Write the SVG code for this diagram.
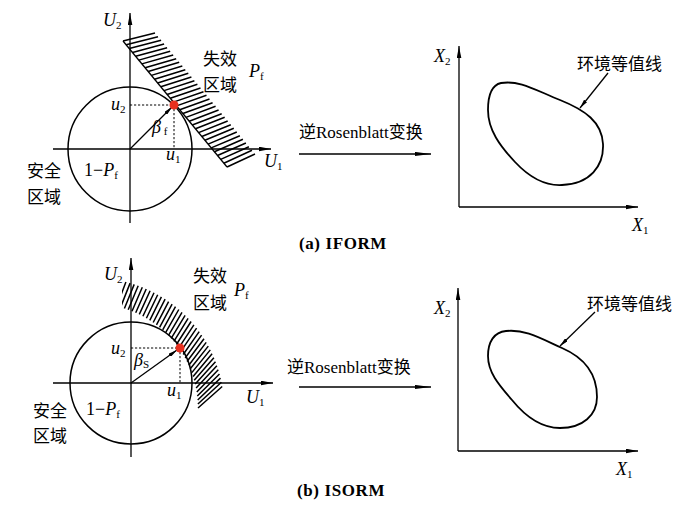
<svg xmlns="http://www.w3.org/2000/svg" width="700" height="516" viewBox="0 0 700 516">
<style>
.ln{stroke:#000;stroke-width:1.3;fill:none}
.cir{stroke:#000;stroke-width:1.5;fill:none}
.dash{stroke:#000;stroke-width:1;stroke-dasharray:2.2 1.8;fill:none}
.hat{stroke:#000;stroke-width:1.5;fill:none}
.egg{stroke:#000;stroke-width:1.8;fill:none}
.dot{fill:#e8301f}
.m{font-family:"Liberation Serif",serif;font-style:italic;font-size:18px;fill:#000}
.sub{font-size:11px;font-style:normal}
.cn{font-family:"Noto Sans CJK SC",sans-serif;font-size:17px;fill:#000}
.lab{font-family:"Liberation Serif","Noto Sans CJK SC",serif;font-size:17px;fill:#000}
.cap{font-family:"Liberation Serif",serif;font-weight:bold;font-size:17px;letter-spacing:0.6px;fill:#000}
</style>
<defs>
<marker id="ax" viewBox="0 0 12 5" refX="12" refY="2.5" markerWidth="12" markerHeight="5" markerUnits="userSpaceOnUse" orient="auto"><path d="M0,0.2 L12,2.5 L0,4.8 Z"/></marker>
<marker id="ar" viewBox="0 0 16 5" refX="16" refY="2.5" markerWidth="16" markerHeight="5" markerUnits="userSpaceOnUse" orient="auto"><path d="M0,0.4 L16,2.5 L0,4.6 Z"/></marker>
<marker id="pt" viewBox="0 0 9 4" refX="9" refY="2" markerWidth="9" markerHeight="4" markerUnits="userSpaceOnUse" orient="auto"><path d="M0,0 L9,2 L0,4 Z"/></marker>
<clipPath id="clipb"><rect x="122" y="270" width="120" height="150"/></clipPath>
</defs>

<g id="panel-a-u">
<line class="ln" x1="130" y1="223" x2="130" y2="13" marker-end="url(#ax)"/>
<line class="ln" x1="53" y1="149" x2="271" y2="149" marker-end="url(#ax)"/>
<circle class="cir" cx="130" cy="149" r="62"/>
<path class="hat" d="M123,41L155,33M126.2,44.8L158,36.7M129.3,48.6L161.1,40.3M132.5,52.5L164.1,44M135.6,56.3L167.1,47.7M138.8,60.1L170.2,51.3M141.9,63.9L173.2,55M145.1,67.7L176.2,58.7M148.2,71.5L179.2,62.3M151.4,75.4L182.3,66M154.5,79.2L185.3,69.7M157.7,83L188.3,73.3M160.8,86.8L191.4,77M164,90.6L194.4,80.7M167.1,94.5L197.4,84.3M170.3,98.3L200.5,88M173.4,102.1L203.5,91.7M176.6,105.9L206.5,95.3M179.7,109.7L209.5,99M182.9,113.5L212.6,102.7M186,117.4L215.6,106.3M189.2,121.2L218.6,110M192.3,125L221.7,113.7M195.5,128.8L224.7,117.3M198.6,132.6L227.7,121M201.8,136.5L230.8,124.7M204.9,140.3L233.8,128.3M208.1,144.1L236.8,132M211.2,147.9L239.9,135.7M214.4,151.7L242.9,139.3M217.5,155.5L245.9,143M220.7,159.4L248.9,146.7M223.8,163.2L252,150.3M227,167L255,154"/>
<line class="ln" x1="123" y1="41" x2="227" y2="167" stroke-width="1.1"/>
<line class="dash" x1="130" y1="105" x2="174" y2="105"/>
<line class="dash" x1="174" y1="105" x2="174" y2="149"/>
<line class="ln" x1="130" y1="149" x2="172" y2="107" stroke-width="1" marker-end="url(#pt)"/>
<circle class="dot" cx="174" cy="105" r="4.5"/>
<text class="m" x="103" y="26">U<tspan class="sub" dy="3">2</tspan></text>
<text class="m" x="264" y="167">U<tspan class="sub" dy="3">1</tspan></text>
<text class="m" x="111" y="110">u<tspan class="sub" dy="3">2</tspan></text>
<text class="m" x="166" y="160">u<tspan class="sub" dy="3">1</tspan></text>
<text class="m" x="152" y="133" font-size="20">β<tspan class="sub" dy="2"> f</tspan></text>
<text class="m" x="249" y="77">P<tspan class="sub" dy="3">f</tspan></text>
<text class="m" x="84" y="176"><tspan font-style="normal">1−</tspan>P<tspan class="sub" dy="3">f</tspan></text>
<text class="cn" x="203" y="65">失效</text>
<text class="cn" x="203" y="91">区域</text>
<text class="cn" x="27" y="177">安全</text>
<text class="cn" x="27" y="203">区域</text>
</g>

<g id="panel-a-x">
<line class="ln" x1="459" y1="207" x2="459" y2="46" marker-end="url(#ax)"/>
<line class="ln" x1="459" y1="207" x2="638" y2="207" marker-end="url(#ax)"/>
<path class="egg" d="M501,83C520,80 535,90 560,100C585,110 602,122 603,144C604,166 590,184 562,185C545,186 530,178 515,162C500,146 488,130 488,110C488,95 492,85 501,83Z"/>
<line class="ln" x1="608" y1="73" x2="580" y2="108" stroke-width="1" marker-end="url(#pt)"/>
<text class="m" x="434" y="62">X<tspan class="sub" dy="3">2</tspan></text>
<text class="m" x="632" y="231">X<tspan class="sub" dy="3">1</tspan></text>
<text class="cn" x="577" y="70">环境等值线</text>
</g>

<g id="panel-b-u">
<line class="ln" x1="131" y1="457" x2="131" y2="258" marker-end="url(#ax)"/>
<line class="ln" x1="53" y1="383" x2="273" y2="383" marker-end="url(#ax)"/>
<circle class="cir" cx="131" cy="383" r="61"/>
<path class="hat" clip-path="url(#clipb)" d="M116.7,306.5L125.9,282M120.5,307.4L130.1,283.1M124.4,308.5L134.2,284.4M128.2,309.8L138.2,285.8M132,311.2L142.3,287.3M135.7,312.7L146.2,289M139.3,314.4L150.1,290.7M142.9,316.2L154,292.7M146.4,318.2L157.7,294.7M149.8,320.3L161.4,296.9M153.2,322.5L165.1,299.2M156.5,324.9L168.6,301.6M159.6,327.3L172.1,304.1M162.7,329.9L175.5,306.7M165.6,332.6L178.8,309.5M168.5,335.4L182,312.3M171.2,338.4L185.1,315.3M173.9,341.4L188.1,318.4M176.4,344.5L191.1,321.5M178.8,347.8L193.9,324.8M181,351.1L196.6,328.1M183.2,354.5L199.2,331.6M185.2,358L201.6,335.1M187,361.5L204,338.7M188.8,365.2L206.2,342.4M190.3,368.8L208.3,346.1M191.8,372.6L210.3,349.9M193.1,376.4L212.1,353.8M194.2,380.2L213.9,357.7M195.2,384.1L215.5,361.7M196.1,388.1L216.9,365.7M196.8,392L218.3,369.8M197.3,396L219.5,374M197.7,400L220.5,378.1M197.9,404L221.4,382.3M198,408L222.2,386.5"/>
<line class="dash" x1="131" y1="348" x2="180" y2="348"/>
<line class="dash" x1="180" y1="348" x2="180" y2="383"/>
<line class="ln" x1="131" y1="383" x2="177" y2="350" stroke-width="1" marker-end="url(#pt)"/>
<circle class="dot" cx="180" cy="348" r="4.5"/>
<text class="m" x="104" y="280">U<tspan class="sub" dy="3">2</tspan></text>
<text class="m" x="246" y="403">U<tspan class="sub" dy="3">1</tspan></text>
<text class="m" x="111" y="354">u<tspan class="sub" dy="3">2</tspan></text>
<text class="m" x="167" y="396">u<tspan class="sub" dy="3">1</tspan></text>
<text class="m" x="134" y="366" font-size="20">β<tspan class="sub" dy="2">S</tspan></text>
<text class="m" x="234" y="296">P<tspan class="sub" dy="3">f</tspan></text>
<text class="m" x="86" y="415"><tspan font-style="normal">1−</tspan>P<tspan class="sub" dy="3">f</tspan></text>
<text class="cn" x="193" y="282">失效</text>
<text class="cn" x="193" y="309">区域</text>
<text class="cn" x="33" y="417">安全</text>
<text class="cn" x="33" y="442">区域</text>
</g>

<g id="panel-b-x">
<line class="ln" x1="458" y1="451" x2="458" y2="288" marker-end="url(#ax)"/>
<line class="ln" x1="458" y1="451" x2="638" y2="451" marker-end="url(#ax)"/>
<path class="egg" d="M506,331C525,329 540,338 562,348C585,358 597,375 597,397C597,415 583,428 560,428C540,428 525,416 512,400C498,384 488,372 488,356C488,342 494,332 506,331Z"/>
<line class="ln" x1="595" y1="312" x2="560" y2="346" stroke-width="1" marker-end="url(#pt)"/>
<text class="m" x="434" y="314">X<tspan class="sub" dy="3">2</tspan></text>
<text class="m" x="616" y="475">X<tspan class="sub" dy="3">1</tspan></text>
<text class="cn" x="587" y="310">环境等值线</text>
</g>

<g id="connectors">
<line class="ln" x1="299" y1="154" x2="431" y2="154" marker-end="url(#ar)"/>
<text class="lab" x="299" y="138">逆Rosenblatt变换</text>
<line class="ln" x1="299" y1="387" x2="431" y2="387" marker-end="url(#ar)"/>
<text class="lab" x="287" y="373">逆Rosenblatt变换</text>
</g>

<g id="captions">
<text class="cap" x="299" y="249">(a) IFORM</text>
<text class="cap" x="297" y="496">(b) ISORM</text>
</g>
</svg>
